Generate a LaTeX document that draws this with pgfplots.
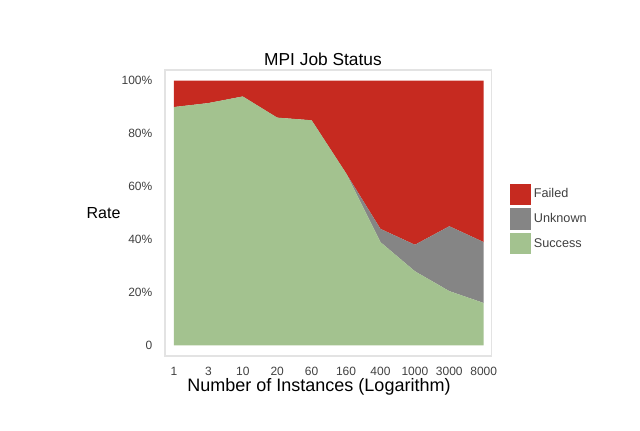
\documentclass[border=0pt]{standalone}
\usepackage{fontspec}
\setmainfont{Liberation Sans}
\usepackage{pgfplots}
\pgfplotsset{compat=1.18}

\definecolor{failc}{HTML}{C62A20}
\definecolor{unkc}{HTML}{858585}
\definecolor{succc}{HTML}{A3C28F}
\definecolor{tickc}{HTML}{404040}

\begin{document}
\begin{tikzpicture}
\path[use as bounding box] (0pt,0pt) rectangle (480pt,323.25pt);
\begin{axis}[
    at={(123.75pt,56.25pt)}, anchor=south west,
    scale only axis,
    width=245pt, height=214.5pt,
    stack plots=y,
    xmin=-0.26, xmax=9.23,
    ymin=-4, ymax=104,
    xtick={0,...,9},
    xticklabels={1,3,10,20,60,160,400,1000,3000,8000},
    ytick={0,20,40,60,80,100},
    yticklabels={0,20\%,40\%,60\%,80\%,100\%},
    major tick length=0pt,
    tick label style={font=\fontsize{9}{10}\selectfont, text=tickc},
    xticklabel style={yshift=-5pt},
    yticklabel style={xshift=-6pt},
    axis line style={gray!22, line width=0.8pt},
    title={MPI Job Status},
    title style={font=\fontsize{13}{15}\selectfont, yshift=-6pt, xshift=-4pt},
    xlabel={Number of Instances (Logarithm)},
    xlabel style={font=\fontsize{13.5}{15}\selectfont, yshift=5pt, xshift=-7pt},
    ylabel={Rate},
    ylabel style={font=\fontsize{12}{14}\selectfont, rotate=-90, xshift=6pt},
    legend style={at={(1.055,0.479)}, anchor=west, draw=none, fill=none,
        font=\fontsize{9.5}{11}\selectfont, text=tickc,
        row sep=2.5pt, inner sep=0pt,
        /tikz/every even column/.append style={column sep=3pt}},
    legend cell align=left,
    reverse legend,
    legend image code/.code={\fill[#1] (0pt,-8pt) rectangle (16pt,8pt);},
]
\addplot[fill=succc, draw=none] coordinates {
    (0,90) (1,91.5) (2,94) (3,86) (4,85) (5,65) (6,39) (7,28) (8,20.5) (9,16)
} \closedcycle;
\addlegendentry{Success}
\addplot[fill=unkc, draw=none] coordinates {
    (0,0) (1,0) (2,0) (3,0) (4,0) (5,0) (6,5) (7,10) (8,24.5) (9,23)
} \closedcycle;
\addlegendentry{Unknown}
\addplot[fill=failc, draw=none] coordinates {
    (0,10) (1,8.5) (2,6) (3,14) (4,15) (5,35) (6,56) (7,62) (8,55) (9,61)
} \closedcycle;
\addlegendentry{Failed}
\end{axis}
\end{tikzpicture}
\end{document}
